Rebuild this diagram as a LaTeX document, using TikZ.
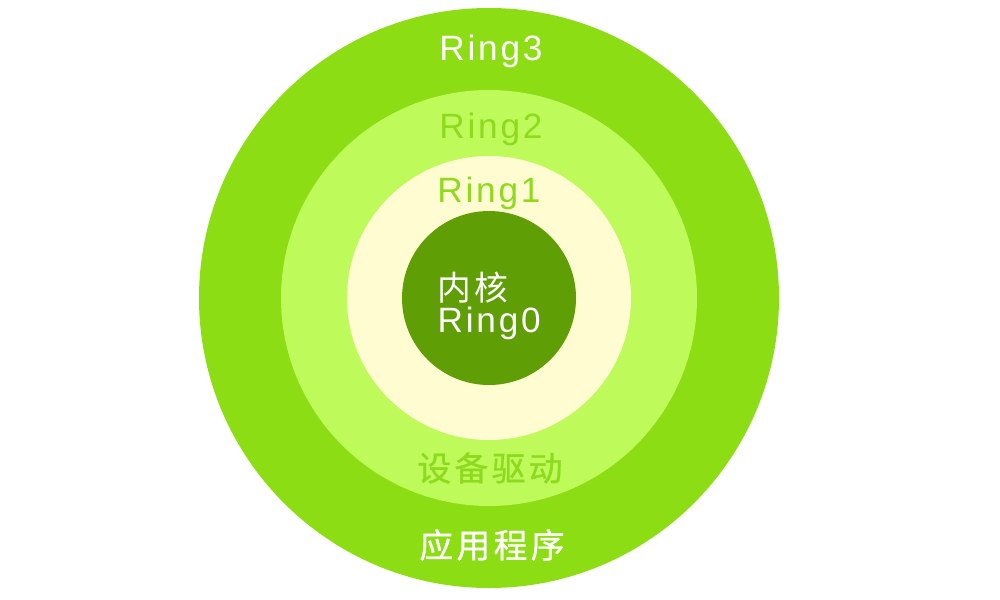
\documentclass[tikz,border=0pt]{standalone}
\usepackage{fontspec}
\setmainfont{Liberation Sans}[LetterSpace=8]
\newfontfamily\cjk{Noto Sans CJK SC}[LetterSpace=10]
\newfontfamily\cjkheavy{Noto Sans CJK SC}[LetterSpace=10, FakeBold=0.9]
\usepackage{tikz}
\usetikzlibrary{positioning}

\definecolor{ringthree}{RGB}{140,221,19}
\definecolor{ringtwo}{RGB}{190,250,90}
\definecolor{ringone}{RGB}{255,252,210}
\definecolor{ringzero}{RGB}{96,158,6}
\definecolor{labelgreen}{RGB}{142,218,30}

\begin{document}
\begin{tikzpicture}[x=0.01cm, y=-0.01cm,
    lbl/.style={font=\fontsize{10}{12}\selectfont, inner sep=0pt},
    lblcjk/.style={font=\fontsize{9.6}{12}\selectfont\cjkheavy, inner sep=0pt}]

  % canvas
  \useasboundingbox (0,0) rectangle (1000,600);

  % Concentric protection rings
  \foreach \r/\c in {290/ringthree, 208/ringtwo, 142/ringone, 87/ringzero} {
    \fill[\c] (489,298) circle (\r);
  }

  % Ring labels
  \node[lbl, white] (ring3) at (491,51) {Ring3};
  \node[lbl, labelgreen] (ring2) at (491,129) {Ring2};
  \node[lbl, labelgreen] (ring1) at (489,193) {Ring1};

  % Kernel
  \node[lblcjk, white, anchor=west, font=\fontsize{9.6}{12}\selectfont\cjk] (kernel) at (437,288) {内核};
  \node[lbl, white, anchor=west] (ring0) at (437,323) {Ring0};

  % Bottom labels
  \node[lblcjk, labelgreen] (driver) at (490,468) {设备驱动};
  \node[lblcjk, white] (apps) at (492,545) {应用程序};

\end{tikzpicture}
\end{document}
